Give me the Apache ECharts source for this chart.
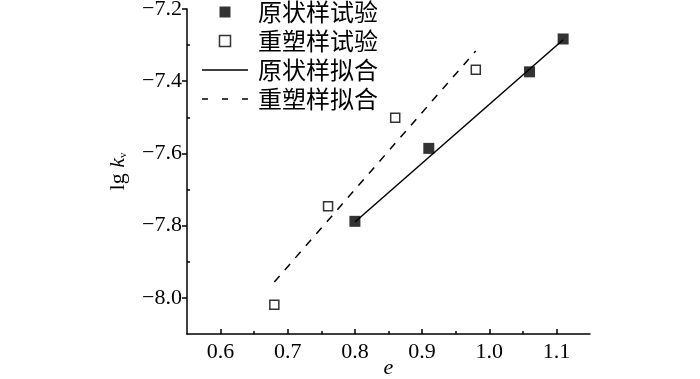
<!DOCTYPE html>
<html><head><meta charset="utf-8">
<script src="https://cdn.jsdelivr.net/npm/echarts@6/dist/echarts.min.js"></script>
<style>html,body{margin:0;padding:0;background:#fff}#c{width:700px;height:379px}</style>
</head><body><div id="c"></div>
<script>
// Data
const undisturbedX = [0.80, 0.91, 1.06, 1.11];
const undisturbedY = [-7.788, -7.586, -7.374, -7.283];
const remouldedX = [0.68, 0.76, 0.86, 0.98];
const remouldedY = [-8.019, -7.746, -7.501, -7.368];
const undisturbedFitX = [0.80, 1.11];
const undisturbedFitY = [-7.790, -7.285];
const remouldedFitX = [0.68, 0.98];
const remouldedFitY = [-7.956, -7.316];
const xTicks = [0.6, 0.7, 0.8, 0.9, 1.0, 1.1];
const xMinorTicks = [0.65, 0.75, 0.85, 0.95, 1.05];
const yTicks = [-8.0, -7.8, -7.6, -7.4, -7.2];
const yMinorTicks = [-7.9, -7.7, -7.5, -7.3];
const seriesNames = ['原状样试验', '重塑样试验', '原状样拟合', '重塑样拟合'];

const zip = (a, b) => a.map((v, i) => [v, b[i]]);
const numFont = 'Liberation Serif';
const cjkFont = 'Noto Sans CJK SC';
const fmt = v => (v < 0 ? '\u2212' : '') + Math.abs(v).toFixed(1);

const squareIcon = 'path://M0,0H10V10H0Z';
const solidIcon = 'path://M0,0H46V1.5H0Z';
const dashIcon = 'path://M0,0H6V1.5H0Z M20,0H26V1.5H20Z M40,0H46V1.5H40Z';

const chart = echarts.init(document.getElementById('c'), null, {renderer: 'canvas'});
chart.setOption({
  animation: false,
  backgroundColor: '#fff',
  grid: {left: 187, top: 9, right: 110, bottom: 45, containLabel: false, outerBoundsMode: 'none'},
  legend: {
    orient: 'vertical', left: 197, top: -5,
    itemWidth: 46, itemHeight: 11, itemGap: 5,
    data: [
      {name: seriesNames[0], icon: squareIcon, itemStyle: {color: '#000', borderWidth: 0}},
      {name: seriesNames[1], icon: squareIcon, itemStyle: {color: '#fff', borderColor: '#000', borderWidth: 1.5}},
      {name: seriesNames[2], icon: solidIcon, itemStyle: {color: '#000', borderWidth: 0}},
      {name: seriesNames[3], icon: dashIcon, itemStyle: {color: '#000', borderWidth: 0}}
    ],
    textStyle: {fontFamily: cjkFont, fontSize: 24, color: '#000', lineHeight: 24, padding: [0, 0, 0, 5]}
  },
  xAxis: [{
    type: 'value', min: 0.55, max: 1.15,
    name: 'e', nameLocation: 'middle', nameGap: 23, nameMoveOverlap: false,
    nameTextStyle: {fontFamily: numFont, fontStyle: 'italic', fontSize: 22, color: '#000'},
    axisLine: {lineStyle: {color: '#000', width: 1.5}},
    axisTick: {inside: true, length: 5, lineStyle: {color: '#000', width: 1.5}, customValues: xTicks},
    axisLabel: {customValues: xTicks, formatter: fmt, margin: 7, fontFamily: numFont, fontSize: 22, color: '#000'},
    splitLine: {show: false}
  }, {
    type: 'value', min: 0.55, max: 1.15, position: 'bottom',
    axisLine: {show: false},
    axisTick: {inside: true, length: 3, lineStyle: {color: '#000', width: 1.5}, customValues: xMinorTicks},
    axisLabel: {show: false}, splitLine: {show: false}
  }],
  yAxis: [{
    type: 'value', min: -8.1, max: -7.2,
    name: '{a|lg }{b|k}{c|v}', nameLocation: 'middle', nameGap: 58, nameRotate: 90, nameMoveOverlap: false,
    nameTextStyle: {
      fontFamily: numFont, fontSize: 22, color: '#000',
      rich: {
        a: {fontFamily: numFont, fontSize: 22, color: '#000'},
        b: {fontFamily: numFont, fontSize: 22, fontStyle: 'italic', color: '#000'},
        c: {fontFamily: numFont, fontSize: 11, color: '#000', verticalAlign: 'bottom', padding: [10, 0, 0, 0]}
      }
    },
    axisLine: {lineStyle: {color: '#000', width: 1.5}},
    axisTick: {inside: false, length: 5, lineStyle: {color: '#000', width: 1.5}, customValues: yTicks},
    axisLabel: {customValues: yTicks, formatter: fmt, margin: 5, fontFamily: numFont, fontSize: 22, color: '#000'},
    splitLine: {show: false}
  }, {
    type: 'value', min: -8.1, max: -7.2, position: 'left',
    axisLine: {show: false},
    axisTick: {inside: true, length: 3, lineStyle: {color: '#000', width: 1.5}, customValues: yMinorTicks},
    axisLabel: {show: false}, splitLine: {show: false}
  }],
  series: [{
    name: seriesNames[0], type: 'scatter', symbol: 'rect', symbolSize: 11,
    itemStyle: {color: '#000'}, data: zip(undisturbedX, undisturbedY), z: 5
  }, {
    name: seriesNames[1], type: 'scatter', symbol: 'rect', symbolSize: 9,
    itemStyle: {color: '#fff', borderColor: '#000', borderWidth: 1.5}, data: zip(remouldedX, remouldedY), z: 5
  }, {
    name: seriesNames[2], type: 'line', symbol: 'none', showSymbol: false,
    lineStyle: {color: '#000', width: 1.5, type: 'solid'}, itemStyle: {color: '#000'},
    data: zip(undisturbedFitX, undisturbedFitY)
  }, {
    name: seriesNames[3], type: 'line', symbol: 'none', showSymbol: false,
    lineStyle: {color: '#000', width: 1.5, type: [8, 8]}, itemStyle: {color: '#000'},
    data: zip(remouldedFitX, remouldedFitY)
  }]
});
</script></body></html>
